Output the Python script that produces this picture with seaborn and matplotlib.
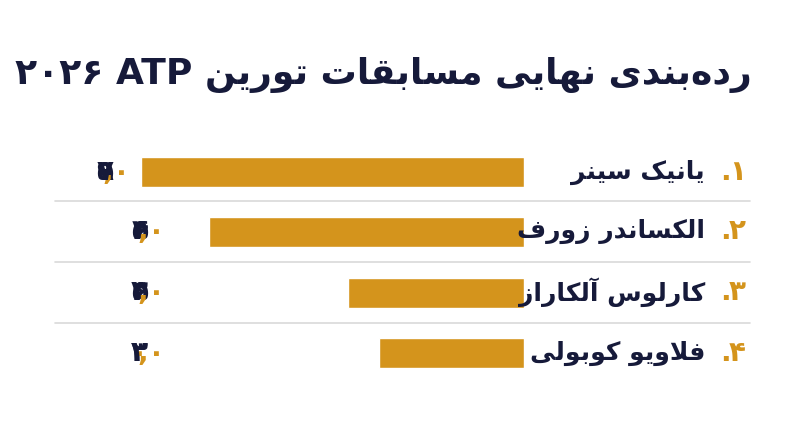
import matplotlib
matplotlib.use("Agg")
import matplotlib.pyplot as plt
import seaborn as sns
import pandas as pd

names = ["یانیک سینر", "الکساندر زورف", "کارلوس آلکاراز", "فلاویو کوبولی"]
ranks = ["۱", "۲", "۳", "۴"]
points = [7950, 6540, 3650, 3020]
value_labels = ["۷,۹۵۰", "۶,۵۴۰", "۳,۶۵۰", "۳,۰۲۰"]
title_fa = "رده\u200cبندی نهایی مسابقات تورین"
title_ltr = "۲۰۲۶ ATP "

NAVY = "#161a3a"
GOLD = "#d4941c"

# minimal Arabic/Persian shaping
DUAL = {'ب': 0xFE8F, 'ت': 0xFE95, 'س': 0xFEB1, 'ف': 0xFED1, 'ق': 0xFED5, 'ل': 0xFEDD,
        'م': 0xFEE1, 'ن': 0xFEE5, 'ه': 0xFEE9, 'ی': 0xFBFC, 'ک': 0xFB8E}
RIGHT = {'ا': 0xFE8D, 'آ': 0xFE81, 'و': 0xFEED, 'د': 0xFEA9, 'ر': 0xFEAD, 'ز': 0xFEAF}


def shape(s):
    toks = []
    i = 0
    while i < len(s):
        if s[i] == 'ل' and i + 1 < len(s) and s[i + 1] in 'اآ':
            toks.append('LA' if s[i + 1] == 'ا' else 'LAA')
            i += 2
        else:
            toks.append(s[i])
            i += 1

    def joins_left(t):
        return t in DUAL

    def joins_right(t):
        return t in DUAL or t in RIGHT or t in ('LA', 'LAA')

    out = []
    for k, t in enumerate(toks):
        prev = toks[k - 1] if k > 0 else None
        nxt = toks[k + 1] if k + 1 < len(toks) else None
        cp = prev is not None and joins_left(prev) and joins_right(t)
        cn = nxt is not None and joins_left(t) and joins_right(nxt)
        if t == 'LA':
            out.append(chr(0xFEFC if cp else 0xFEFB))
        elif t == 'LAA':
            out.append(chr(0xFEF6 if cp else 0xFEF5))
        elif t in DUAL:
            b = DUAL[t]
            out.append(chr(b + (3 if cp and cn else 2 if cn else 1 if cp else 0)))
        elif t in RIGHT:
            out.append(chr(RIGHT[t] + (1 if cp else 0)))
        elif t == '\u200c':
            continue
        else:
            out.append(t)
    return "".join(out)


def rtl(s):
    return shape(s)[::-1]


sns.set_theme(style="white")
plt.rcParams['font.family'] = ['DejaVu Sans']

W, H = 800, 447
fig = plt.figure(figsize=(8, 4.47), dpi=100)
fig.patch.set_facecolor("white")

top_px, bot_px = 142, 383
ax = fig.add_axes([0, 1 - bot_px / H, 524 / W, (bot_px - top_px) / H])
df = pd.DataFrame({"row": list(range(len(points))), "points": points})
sns.barplot(data=df, x="points", y="row", orient="h", color=GOLD, saturation=1,
            width=0.5, ax=ax)
xmax = points[0] * 524 / (524 - 141)
ax.set_xlim(xmax, 0)
ax.set_ylim(len(points) - 0.5, -0.5)
ax.axis("off")

fig.text(752 / W, 1 - 75 / H, title_ltr + rtl(title_fa), ha="right", va="center",
         fontsize=26, fontweight="bold", color=NAVY)

row_y = [172, 231, 292, 353]
val_right = [130, 165, 165, 165]
for i in range(len(points)):
    yf = 1 - row_y[i] / H
    fig.text(746 / W, yf, ranks[i], ha="right", va="center", fontsize=20,
             fontweight="bold", color=GOLD)
    fig.text(731 / W, yf, ".", ha="right", va="center", fontsize=20,
             fontweight="bold", color=GOLD)
    fig.text(705 / W, yf, rtl(names[i]), ha="right", va="center", fontsize=18,
             fontweight="bold", color=NAVY)
    chars = list(value_labels[i])
    prev = None
    for ch in reversed(chars):
        col = GOLD if ch in ",۰" else NAVY
        if prev is None:
            prev = fig.text(val_right[i] / W, yf, ch, ha="right", va="center", fontsize=20,
                            fontweight="bold", color=col, zorder=5)
        else:
            prev = fig.text(0, 0, ch, ha="right", va="center", fontsize=20,
                            fontweight="bold", color=col, zorder=5)
            prev = ax.annotate(ch, xy=(0, 0.5), xycoords=fig.texts[-2], ha="right",
                               va="center", fontsize=20, fontweight="bold", color=col,
                               annotation_clip=False, zorder=5)
            fig.texts[-1].remove()
    if i < len(points) - 1:
        ly = 1 - (row_y[i] + row_y[i + 1]) / 2 / H
        fig.add_artist(plt.Line2D([55 / W, 750 / W], [ly, ly], color="#d9d9d9", lw=1.2))

fig.savefig("out.png", dpi=100, facecolor="white")
